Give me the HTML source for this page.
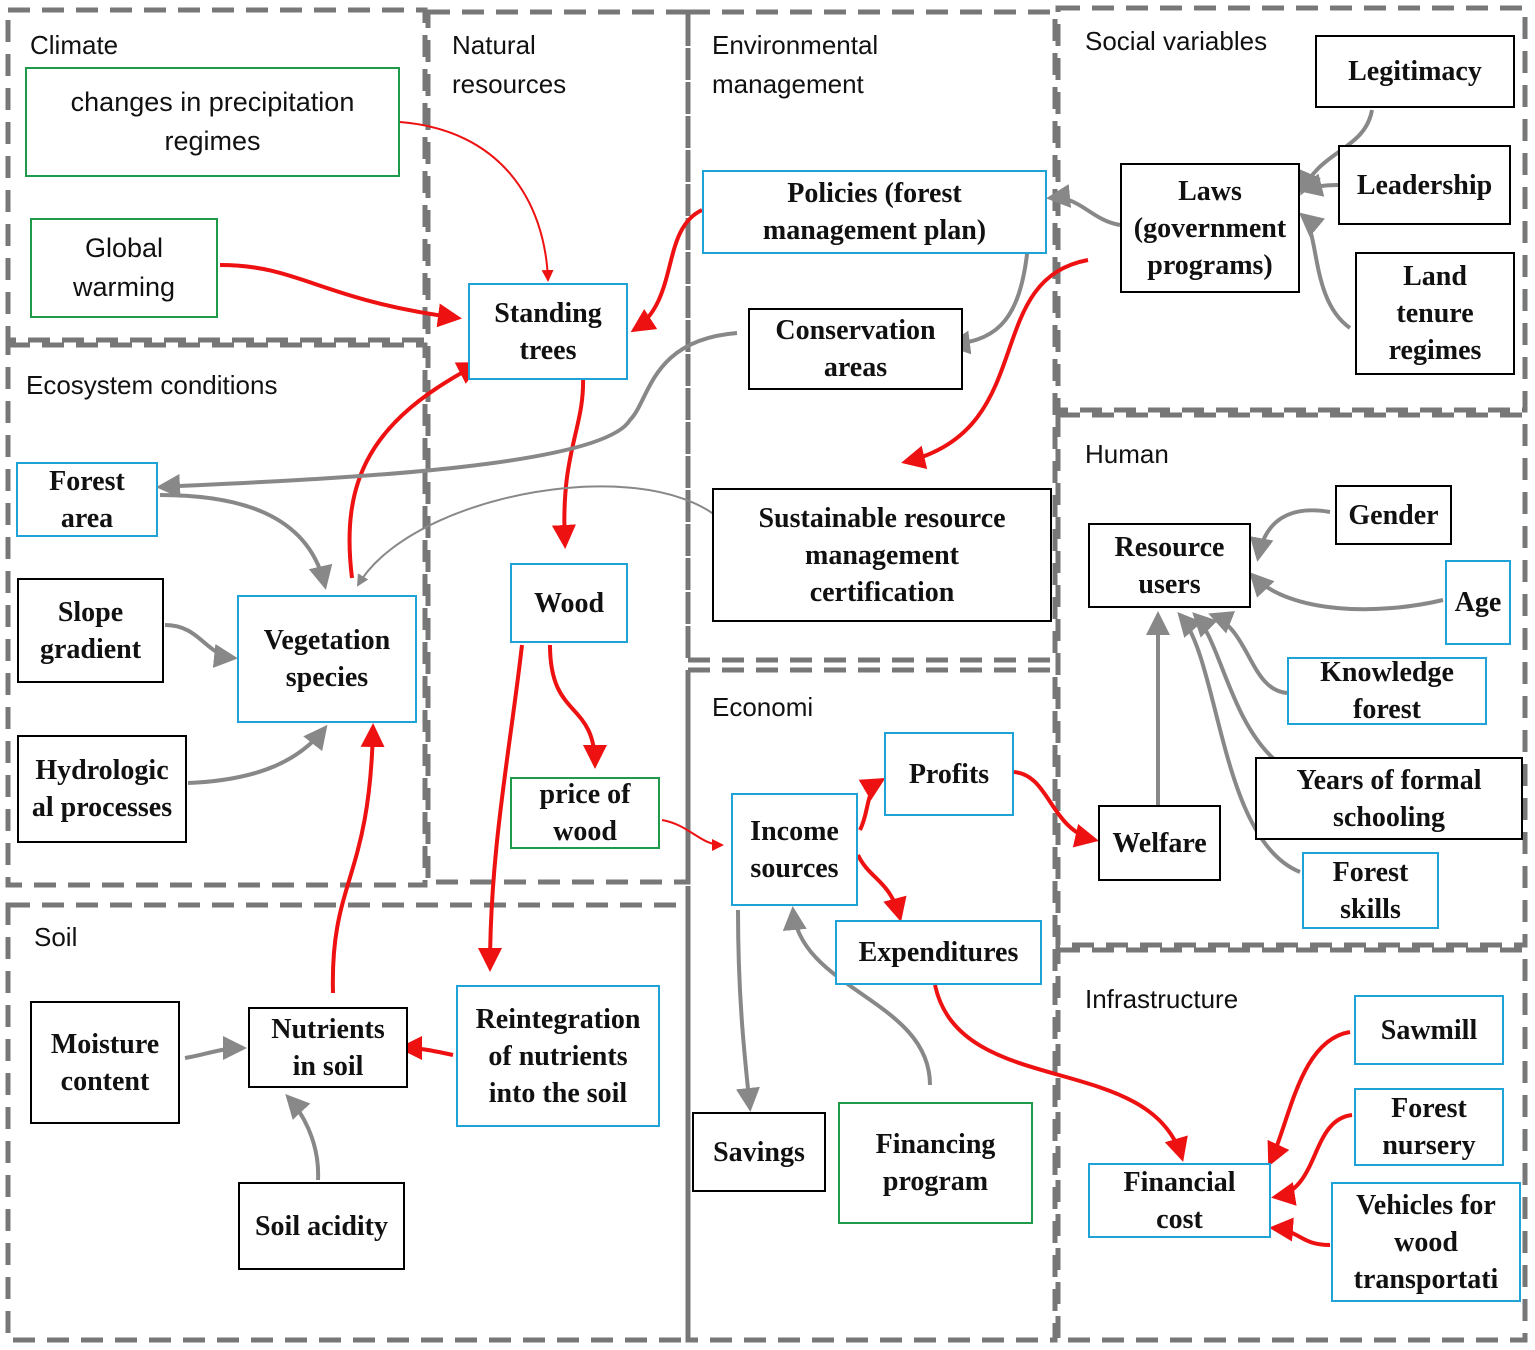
<!DOCTYPE html>
<html><head><meta charset="utf-8"><style>
html,body{margin:0;padding:0;background:#fff;}
body{width:1535px;height:1350px;position:relative;overflow:hidden;}
.n{position:absolute;box-sizing:border-box;border:2.5px solid #000;display:flex;align-items:center;justify-content:center;text-align:center;font-family:"Liberation Serif",serif;font-weight:bold;font-size:28px;line-height:37px;color:#111;background:#fff;}
.b{border-color:#1fa3d6;}
.g{border-color:#1f9a4a;}
.s{font-family:"Liberation Sans",sans-serif;font-weight:normal;font-size:27px;line-height:39px;}
.l{position:absolute;font-family:"Liberation Sans",sans-serif;font-size:26px;line-height:39px;color:#111;}
svg{position:absolute;left:0;top:0;}
</style></head><body>
<svg width="1535" height="1350" viewBox="0 0 1535 1350">
<g fill="none" stroke="#777" stroke-width="5" stroke-dasharray="22,12">
<rect x="8" y="10" width="417" height="330"/>
<rect x="428" y="12" width="260" height="870"/>
<rect x="688" y="12" width="367" height="648"/>
<rect x="1058" y="8" width="467" height="402"/>
<rect x="8" y="345" width="417" height="540"/>
<rect x="1058" y="415" width="467" height="530"/>
<rect x="688" y="670" width="367" height="670"/>
<rect x="8" y="905" width="680" height="435"/>
<rect x="1058" y="950" width="467" height="390"/>
</g>
<defs>
<marker id="r" markerWidth="6" markerHeight="6" refX="5" refY="3" orient="auto"><path d="M0,0 L6,3 L0,6z" fill="#e11"/></marker>
<marker id="k" markerWidth="6" markerHeight="6" refX="5" refY="3" orient="auto"><path d="M0,0 L6,3 L0,6z" fill="#888"/></marker>
</defs>
<g fill="none" stroke="#e11" stroke-width="4" marker-end="url(#r)">
<path d="M400,122 C500,130 545,200 548,280" stroke-width="2"/>
<path d="M220,265 C300,265 320,300 458,318"/>
<path d="M702,210 C660,230 680,300 634,330"/>
<path d="M583,375 C585,430 560,450 565,545"/>
<path d="M1088,260 C980,280 1040,430 905,462"/>
<path d="M352,578 C340,480 370,420 478,364"/>
<path d="M550,645 C550,720 595,700 595,765"/>
<path d="M522,645 C510,750 490,850 490,968"/>
<path d="M333,993 C330,880 370,880 373,727"/>
<path d="M453,1055 C430,1050 420,1048 402,1048"/>
<path d="M662,820 C690,825 700,845 722,845" stroke-width="2"/>
<path d="M860,830 C870,810 865,790 882,780"/>
<path d="M858,855 C870,880 890,880 900,918"/>
<path d="M1014,772 C1050,775 1050,830 1095,840"/>
<path d="M935,985 C960,1100 1150,1050 1182,1158"/>
<path d="M1350,1032 C1300,1040 1290,1120 1270,1163"/>
<path d="M1352,1115 C1310,1120 1320,1190 1275,1197"/>
<path d="M1330,1245 C1300,1245 1300,1230 1273,1228"/>
</g>
<g fill="none" stroke="#888" stroke-width="4" marker-end="url(#k)">
<path d="M1372,110 C1365,150 1320,150 1302,192"/>
<path d="M1338,185 C1320,185 1310,188 1302,190"/>
<path d="M1350,328 C1310,300 1320,230 1302,215"/>
<path d="M1120,225 C1090,220 1080,195 1050,198"/>
<path d="M1028,245 C1020,330 990,340 950,345"/>
<path d="M737,333 C650,340 650,400 630,420 C600,470 300,480 160,487"/>
<path d="M160,495 C250,495 310,520 325,586"/>
<path d="M745,560 C720,440 420,480 358,585" stroke-width="2"/>
<path d="M165,625 C200,625 205,655 234,658"/>
<path d="M188,783 C260,780 300,760 325,728"/>
<path d="M185,1058 C205,1055 220,1048 243,1048"/>
<path d="M318,1180 C320,1140 300,1110 288,1097"/>
<path d="M1330,512 C1290,505 1265,520 1258,558"/>
<path d="M1443,600 C1380,615 1290,615 1252,575"/>
<path d="M1287,693 C1250,690 1250,630 1212,615"/>
<path d="M1275,760 C1230,720 1220,640 1195,615"/>
<path d="M1300,872 C1220,840 1220,660 1180,615"/>
<path d="M1158,805 L1158,615"/>
<path d="M738,910 C738,1000 745,1060 750,1108"/>
<path d="M930,1085 C930,1000 800,990 793,910"/>
</g>
</svg>
<div class="l" style="left:30px;top:26px">Climate</div>
<div class="l" style="left:452px;top:26px">Natural<br>resources</div>
<div class="l" style="left:712px;top:26px">Environmental<br>management</div>
<div class="l" style="left:1085px;top:22px">Social variables</div>
<div class="l" style="left:26px;top:366px">Ecosystem conditions</div>
<div class="l" style="left:1085px;top:435px">Human</div>
<div class="l" style="left:712px;top:688px">Economi</div>
<div class="l" style="left:34px;top:918px">Soil</div>
<div class="l" style="left:1085px;top:980px">Infrastructure</div>

<div class="n g s" style="left:25px;top:67px;width:375px;height:110px">changes in precipitation<br>regimes</div>
<div class="n g s" style="left:30px;top:218px;width:188px;height:100px">Global<br>warming</div>
<div class="n b" style="left:468px;top:283px;width:160px;height:97px">Standing<br>trees</div>
<div class="n b" style="left:702px;top:170px;width:345px;height:84px">Policies (forest<br>management plan)</div>
<div class="n" style="left:1120px;top:163px;width:180px;height:130px">Laws<br>(government<br>programs)</div>
<div class="n" style="left:1315px;top:35px;width:200px;height:73px">Legitimacy</div>
<div class="n" style="left:1338px;top:145px;width:173px;height:80px">Leadership</div>
<div class="n" style="left:1355px;top:252px;width:160px;height:123px">Land<br>tenure<br>regimes</div>
<div class="n" style="left:748px;top:308px;width:215px;height:82px">Conservation<br>areas</div>
<div class="n" style="left:712px;top:488px;width:340px;height:134px">Sustainable resource<br>management<br>certification</div>
<div class="n b" style="left:16px;top:462px;width:142px;height:75px">Forest<br>area</div>
<div class="n" style="left:17px;top:578px;width:147px;height:105px">Slope<br>gradient</div>
<div class="n b" style="left:237px;top:595px;width:180px;height:128px">Vegetation<br>species</div>
<div class="n" style="left:17px;top:735px;width:170px;height:108px">Hydrologic<br>al processes</div>
<div class="n b" style="left:510px;top:563px;width:118px;height:80px">Wood</div>
<div class="n g" style="left:510px;top:777px;width:150px;height:72px">price of<br>wood</div>
<div class="n" style="left:1335px;top:485px;width:117px;height:60px">Gender</div>
<div class="n" style="left:1088px;top:523px;width:163px;height:85px">Resource<br>users</div>
<div class="n b" style="left:1445px;top:560px;width:66px;height:85px">Age</div>
<div class="n b" style="left:1287px;top:657px;width:200px;height:68px">Knowledge<br>forest</div>
<div class="n" style="left:1255px;top:757px;width:268px;height:83px">Years of formal<br>schooling</div>
<div class="n" style="left:1098px;top:805px;width:123px;height:76px">Welfare</div>
<div class="n b" style="left:1302px;top:852px;width:137px;height:77px">Forest<br>skills</div>
<div class="n b" style="left:884px;top:732px;width:130px;height:84px">Profits</div>
<div class="n b" style="left:731px;top:793px;width:127px;height:113px">Income<br>sources</div>
<div class="n b" style="left:835px;top:920px;width:207px;height:65px">Expenditures</div>
<div class="n" style="left:692px;top:1112px;width:134px;height:80px">Savings</div>
<div class="n g" style="left:838px;top:1102px;width:195px;height:122px">Financing<br>program</div>
<div class="n" style="left:30px;top:1001px;width:150px;height:123px">Moisture<br>content</div>
<div class="n" style="left:248px;top:1007px;width:160px;height:81px">Nutrients<br>in soil</div>
<div class="n b" style="left:456px;top:985px;width:204px;height:142px">Reintegration<br>of nutrients<br>into the soil</div>
<div class="n" style="left:238px;top:1182px;width:167px;height:88px">Soil acidity</div>
<div class="n b" style="left:1354px;top:995px;width:150px;height:70px">Sawmill</div>
<div class="n b" style="left:1354px;top:1088px;width:150px;height:78px">Forest<br>nursery</div>
<div class="n b" style="left:1088px;top:1163px;width:183px;height:75px">Financial<br>cost</div>
<div class="n b" style="left:1331px;top:1182px;width:190px;height:120px">Vehicles for<br>wood<br>transportati</div>
</body></html>
